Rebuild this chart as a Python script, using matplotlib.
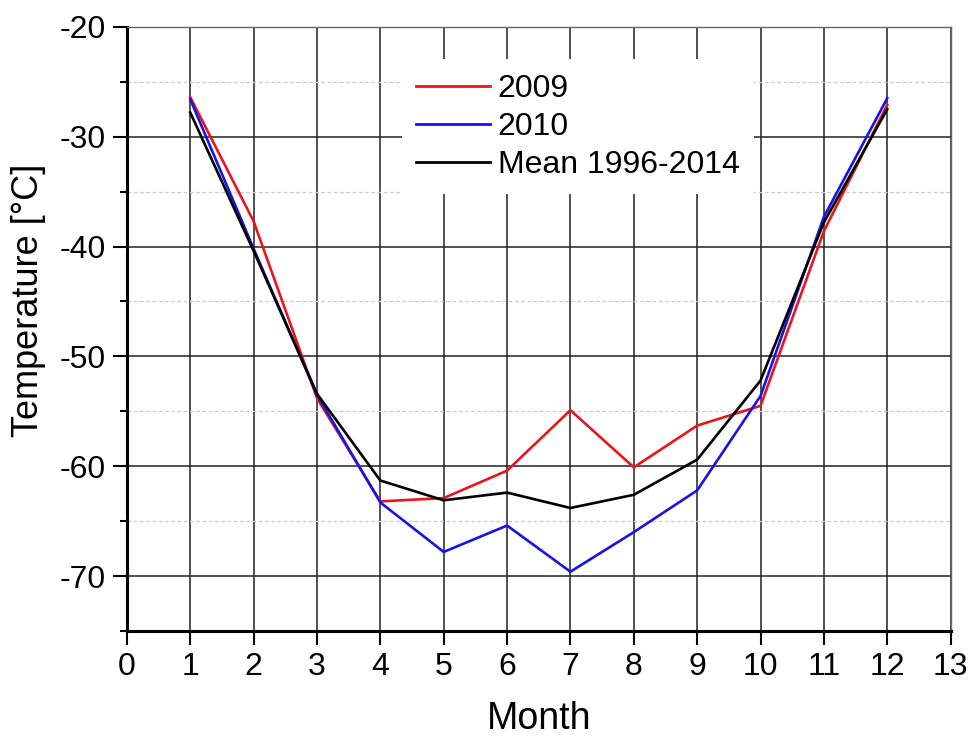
import matplotlib
matplotlib.use("Agg")
import matplotlib.pyplot as plt
from matplotlib.ticker import MultipleLocator

plt.rcParams["font.family"] = ["Liberation Sans", "DejaVu Sans"]
plt.rcParams["axes.unicode_minus"] = False

# Monthly mean temperatures
months = [1, 2, 3, 4, 5, 6, 7, 8, 9, 10, 11, 12]
temp_2009 = [-26.4, -37.7, -53.8, -63.2, -62.9, -60.4, -54.9, -60.1, -56.3, -54.5, -38.6, -27.1]
temp_2010 = [-26.6, -40.2, -53.5, -63.3, -67.8, -65.4, -69.6, -66.0, -62.2, -53.6, -37.3, -26.5]
temp_mean = [-27.8, -40.4, -53.4, -61.3, -63.1, -62.4, -63.8, -62.6, -59.4, -52.2, -37.8, -27.5]

series_labels = ["2009", "2010", "Mean 1996-2014"]
series_colors = ["#e8161c", "#1414e6", "black"]

fig = plt.figure(figsize=(9.76, 7.45), dpi=100)
ax = fig.add_axes([0.130, 0.153, 0.844, 0.811])

for data, label, color in zip([temp_2009, temp_2010, temp_mean], series_labels, series_colors):
    ax.plot(months, data, color=color, lw=1.9, label=label, zorder=3)

ax.set_xlim(0, 13)
ax.set_ylim(-75, -20)
ax.xaxis.set_major_locator(MultipleLocator(1))
ax.yaxis.set_major_locator(MultipleLocator(10))
ax.yaxis.set_minor_locator(MultipleLocator(5))

# grid: solid major, dashed light minor
ax.grid(True, which="major", color="#222222", lw=1.1, zorder=1)
ax.grid(True, which="minor", axis="y", color="#cccccc", lw=0.9, ls=(0, (3, 2)), zorder=1)

ax.tick_params(axis="both", which="major", direction="out", length=10, width=1.5,
               labelsize=23, pad=5)
ax.tick_params(axis="y", which="minor", direction="out", length=5, width=1.5)

for side in ["left", "bottom"]:
    ax.spines[side].set_linewidth(2.2)
    ax.spines[side].set_color("black")
for side in ["top", "right"]:
    ax.spines[side].set_linewidth(1.0)
    ax.spines[side].set_color("#666666")

ax.set_xlabel("Month", fontsize=27, labelpad=14)
ax.set_ylabel("Temperature [°C]", fontsize=26)
ax.yaxis.set_label_coords(-0.098, 0.548)

leg = ax.legend(loc="upper left", bbox_to_anchor=(0.334, 0.946), fontsize=23,
                frameon=True, fancybox=False, framealpha=1, facecolor="white",
                edgecolor="none", handlelength=2.3, handletextpad=0.25,
                labelspacing=0.25, borderpad=0.45, borderaxespad=0)
leg.set_zorder(5)
for line in leg.get_lines():
    line.set_linewidth(2.0)

fig.savefig("out.png", dpi=100)
plt.close(fig)
